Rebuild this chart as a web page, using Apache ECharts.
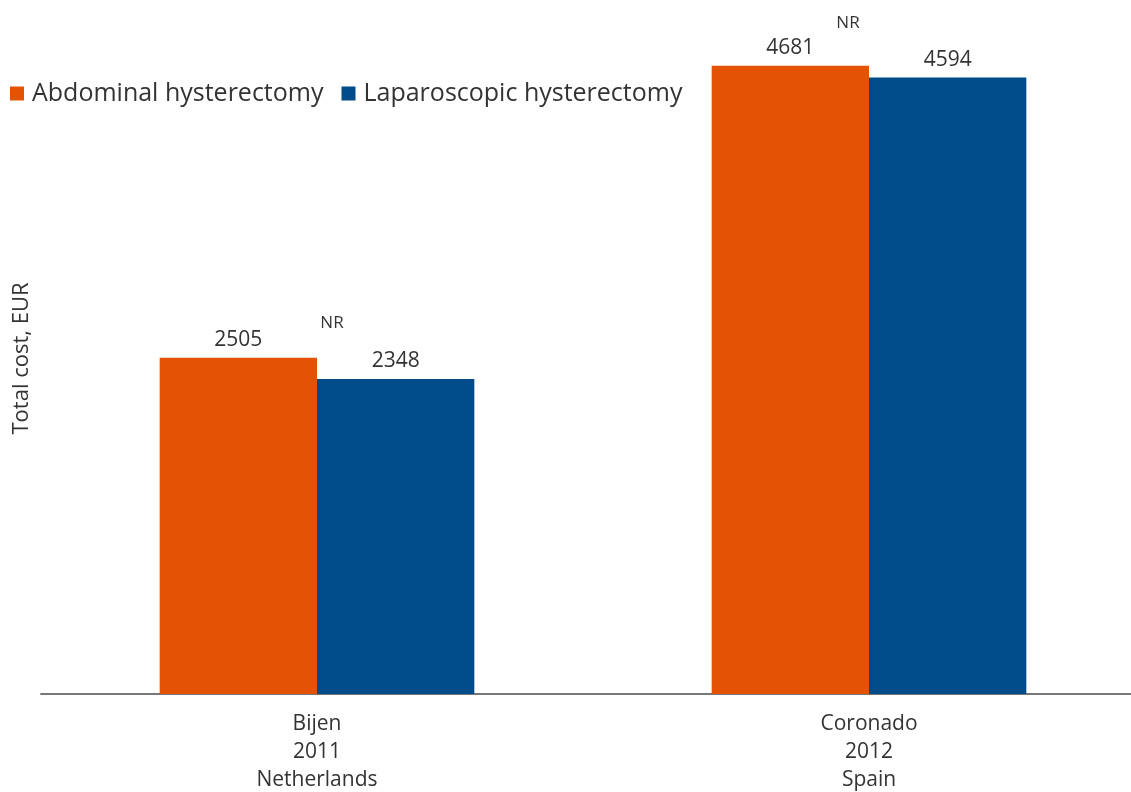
<!DOCTYPE html>
<html>
<head>
<meta charset="utf-8">
<script src="https://cdn.jsdelivr.net/npm/echarts@6/dist/echarts.min.js"></script>
<style>
  html, body { margin: 0; padding: 0; background: #fff; }
  #chart { width: 1131px; height: 792px; }
</style>
</head>
<body>
<div id="chart"></div>
<script>
// Study labels (author, year, country)
const categories = ['Bijen\n2011\nNetherlands', 'Coronado\n2012\nSpain'];
const seriesNames = ['Abdominal hysterectomy', 'Laparoscopic hysterectomy'];
const abdominalCost = [2505, 4681];
const laparoscopicCost = [2348, 4594];
// "NR" (not reported) note per study, placed at this cost level
const nrText = ['NR', 'NR'];
const nrLevel = [2760, 5000];

const FONT = '"Open Sans", "Noto Sans", sans-serif';
const chart = echarts.init(document.getElementById('chart'));

const barLabel = {
  show: true,
  position: 'top',
  distance: 7,
  color: '#333333',
  fontSize: 21,
  fontFamily: FONT
};

chart.setOption({
  animation: false,
  textStyle: { fontFamily: FONT },
  legend: {
    left: 5,
    top: 76,
    itemWidth: 14,
    itemHeight: 14,
    itemGap: 18,
    icon: 'rect',
    textStyle: { fontSize: 25, color: '#333333', fontFamily: FONT, padding: [0, 0, 0, 3] },
    data: seriesNames
  },
  // the plot runs a little past the right edge, so the second group sits off-centre
  grid: { left: 41, width: 1104, top: 23, bottom: 98, containLabel: false, outerBoundsMode: 'none' },
  xAxis: {
    type: 'category',
    data: categories,
    axisTick: { show: false },
    axisLine: { lineStyle: { color: '#777777', width: 2 } },
    axisLabel: { color: '#333333', fontSize: 21, lineHeight: 28, margin: 16, fontFamily: FONT }
  },
  yAxis: {
    type: 'value',
    min: 0,
    max: 5000,
    interval: 1000,
    name: 'Total cost, EUR',
    nameLocation: 'middle',
    nameGap: 8,
    nameTextStyle: { color: '#333333', fontSize: 22, fontFamily: FONT },
    axisLine: { show: false },
    axisTick: { show: false },
    axisLabel: { show: false },
    splitLine: { show: false }
  },
  series: [
    {
      name: seriesNames[0],
      type: 'bar',
      data: abdominalCost,
      barGap: '0%',
      barCategoryGap: '43%',
      itemStyle: { color: '#E35205' },
      label: barLabel
    },
    {
      name: seriesNames[1],
      type: 'bar',
      data: laparoscopicCost,
      itemStyle: { color: '#004C8A' },
      label: barLabel
    },
    {
      name: 'NR',
      type: 'scatter',
      symbolSize: 0,
      silent: true,
      data: nrLevel.map((v, i) => ({
        value: [i, v],
        label: {
          show: true,
          formatter: nrText[i],
          position: 'inside',
          offset: [i === 0 ? 15 : -21, 0],
          color: '#000000',
          fontSize: 17,
          fontFamily: FONT
        }
      }))
    }
  ]
});
</script>
</body>
</html>
